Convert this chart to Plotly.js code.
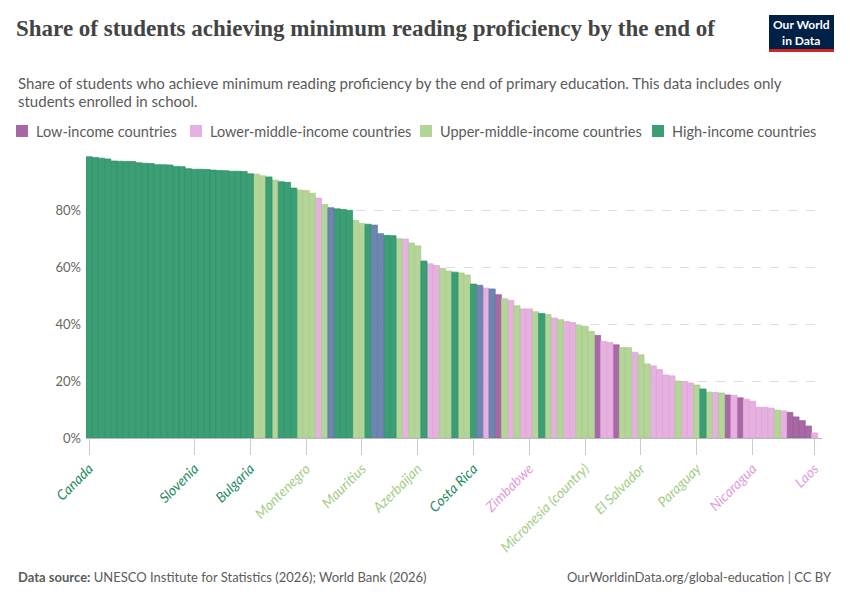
<!DOCTYPE html>
<html>
<head>
<meta charset="utf-8">
<script src="https://cdn.plot.ly/plotly-3.0.1.min.js"></script>
<style>html,body{margin:0;padding:0;background:#fff;}#chart{width:850px;height:600px;}</style>
</head>
<body>
<div id="chart"></div>
<script>
// Share of students (%) achieving minimum reading proficiency, sorted descending
const values = [
  98.7, 98.4, 98.2, 97.9, 97.2, 97.1, 97.0, 97.0, 96.6, 96.4,
  96.3, 95.9, 95.9, 95.8, 95.3, 95.2, 94.5, 94.3, 94.3, 94.2,
  94.0, 93.9, 93.8, 93.6, 93.6, 93.5, 92.7, 92.6, 92.0, 91.6,
  90.5, 89.9, 89.7, 87.7, 87.0, 86.8, 85.9, 84.2, 81.9, 80.8,
  80.4, 80.2, 79.9, 76.3, 75.3, 75.0, 74.7, 71.7, 71.1, 71.0,
  69.9, 69.8, 68.4, 67.4, 62.1, 61.1, 60.5, 59.5, 58.6, 58.2,
  57.9, 57.2, 54.0, 53.6, 52.6, 52.3, 50.3, 48.9, 48.3, 46.4,
  45.3, 45.3, 44.3, 43.7, 43.3, 42.1, 41.5, 40.9, 40.5, 39.5,
  39.2, 37.4, 36.0, 33.9, 33.5, 32.7, 31.8, 31.7, 30.1, 29.2,
  26.0, 25.3, 24.0, 22.1, 21.8, 20.0, 19.8, 19.3, 18.6, 17.2,
  16.1, 16.0, 15.8, 15.1, 15.0, 14.1, 13.6, 12.9, 10.8, 10.8,
  10.5, 9.8, 9.5, 9.0, 7.4, 6.1, 4.2, 1.8
];
// Income group of each bar: L low, LM lower-middle, UM upper-middle, H high, B other
const groups = [
  'H','H','H','H','H','H','H','H','H','H',
  'H','H','H','H','H','H','H','H','H','H',
  'H','H','H','H','H','H','H','UM','UM','H',
  'UM','H','H','H','UM','UM','UM','LM','UM','B',
  'H','H','H','UM','UM','H','B','B','H','H',
  'UM','LM','UM','UM','H','LM','LM','UM','UM','H',
  'UM','UM','H','B','LM','B','L','UM','LM','UM',
  'LM','LM','UM','H','UM','LM','UM','LM','LM','UM',
  'UM','UM','L','LM','LM','L','UM','UM','LM','UM',
  'UM','LM','LM','LM','LM','UM','LM','LM','UM','H',
  'UM','LM','UM','L','LM','L','LM','LM','LM','LM',
  'LM','UM','LM','L','L','L','L','LM'
];
// Labelled countries and their rank position
const tickIndex = [0, 17, 26, 35, 44, 53, 62, 71, 80, 89, 98, 107, 117];
const tickNames = ['Canada','Slovenia','Bulgaria','Montenegro','Mauritius','Azerbaijan','Costa Rica','Zimbabwe','Micronesia (country)','El Salvador','Paraguay','Nicaragua','Laos'];
// Y axis ticks
const yTicks = [0, 20, 40, 60, 80];
const yTickLabels = ['0%', '20%', '40%', '60%', '80%'];

const groupCodes = ['L','LM','UM','H','B'];
const legendCodes = ['L','LM','UM','H'];
const groupNames = {L:'Low-income countries', LM:'Lower-middle-income countries', UM:'Upper-middle-income countries', H:'High-income countries', B:'Other'};
const fillColor = {L:'#A868A5', LM:'#E6B0E0', UM:'#B4D598', H:'#3C9E75', B:'#6D86B0'};
const edgeColor = {L:'#9A5A97', LM:'#DCA3D6', UM:'#A8CC8B', H:'#2F9068', B:'#5F79A4'};
const labelColor = {L:'#A25A9E', LM:'#E09CDA', UM:'#A3CE85', H:'#1F8A5E', B:'#5F79A4'};

const traces = groupCodes.map(g => {
  const xs = [], ys = [];
  values.forEach((v, i) => { if (groups[i] === g) { xs.push(i); ys.push(v); } });
  return {
    type: 'bar', x: xs, y: ys, name: groupNames[g], width: 1,
    marker: {color: fillColor[g], line: {color: edgeColor[g], width: 0.7}},
    showlegend: false, hoverinfo: 'skip'
  };
});

const ticktext = tickIndex.map((idx, k) =>
  '<span style="color:' + labelColor[groups[idx]] + '"><i>' + tickNames[k] + '</i></span>');

const L = 86, R = 822, T = 153, B = 438;
const px = v => (v - L) / (R - L);
const py = v => (B - v) / (B - T);

// Legend (one row, as in the original): key square left edges in page pixels
const legendX = [16, 190, 420, 652];
const legendShapes = legendCodes.map((g, k) => ({
  type: 'rect', xref: 'paper', yref: 'paper',
  x0: px(legendX[k]), x1: px(legendX[k] + 12), y0: py(137), y1: py(125),
  fillcolor: fillColor[g], line: {width: 0}
}));
const legendTexts = legendCodes.map((g, k) => ({
  xref: 'paper', yref: 'paper', x: px(legendX[k] + 18), y: py(131), xanchor: 'left', yanchor: 'middle',
  showarrow: false, text: groupNames[g], font: {family: 'Lato, sans-serif', size: 14.5, color: '#5b5b5b'}
}));

const layout = {
  width: 850, height: 600,
  margin: {l: L, r: 850 - R, t: T, b: 600 - B, autoexpand: false},
  paper_bgcolor: '#fff', plot_bgcolor: '#fff',
  barmode: 'overlay', bargap: 0, showlegend: false,
  font: {family: 'Lato, sans-serif', color: '#5b5b5b'},
  title: {
    text: 'Share of students achieving minimum reading proficiency by the end of',
    font: {family: '"Liberation Serif", serif', size: 23, color: '#444', weight: 'bold'},
    xref: 'container', yref: 'container', x: 16/850, xanchor: 'left', y: 1 - 28/600, yanchor: 'middle'
  },
  xaxis: {
    range: [-0.5, 118.2], showgrid: false, zeroline: false, showline: false, automargin: false,
    tickmode: 'array', tickvals: tickIndex, ticktext: ticktext,
    ticks: 'outside', ticklen: 16, tickcolor: '#ccc', tickwidth: 1,
    tickangle: -45, tickfont: {family: 'Lato, sans-serif', size: 14}
  },
  yaxis: {
    range: [0, 100], tickmode: 'array', tickvals: yTicks, ticktext: yTickLabels, automargin: false,
    showgrid: true, gridcolor: '#dddddd', griddash: 'dash', gridwidth: 1,
    zeroline: true, zerolinecolor: '#bbbbbb', zerolinewidth: 1,
    showline: false, ticks: '', ticklabelstandoff: 4,
    tickfont: {family: 'Lato, sans-serif', size: 13, color: '#666'}
  },
  shapes: [
    {type: 'rect', xref: 'paper', yref: 'paper', x0: px(769), x1: px(834), y0: py(49), y1: py(15), fillcolor: '#002147', line: {width: 0}},
    {type: 'rect', xref: 'paper', yref: 'paper', x0: px(769), x1: px(834), y0: py(52), y1: py(49), fillcolor: '#CE261E', line: {width: 0}}
  ].concat(legendShapes),
  annotations: [
    {xref: 'paper', yref: 'paper', x: px(801.5), y: py(32), xanchor: 'center', yanchor: 'middle', showarrow: false,
     text: 'Our World<br>in Data', font: {family: 'Lato, sans-serif', size: 12, color: '#fff', weight: 'bold'}},
    {xref: 'paper', yref: 'paper', x: px(16), y: py(83), xanchor: 'left', yanchor: 'middle', showarrow: false,
     text: 'Share of students who achieve minimum reading proficiency by the end of primary education. This data includes only',
     font: {family: 'Lato, sans-serif', size: 15, color: '#5b5b5b'}},
    {xref: 'paper', yref: 'paper', x: px(16), y: py(101), xanchor: 'left', yanchor: 'middle', showarrow: false,
     text: 'students enrolled in school.', font: {family: 'Lato, sans-serif', size: 15, color: '#5b5b5b'}},
    {xref: 'paper', yref: 'paper', x: px(16), y: py(577), xanchor: 'left', yanchor: 'middle', showarrow: false,
     text: '<b>Data source:</b> UNESCO Institute for Statistics (2026); World Bank (2026)',
     font: {family: 'Lato, sans-serif', size: 13, color: '#5b5b5b'}},
    {xref: 'paper', yref: 'paper', x: px(834), y: py(577), xanchor: 'right', yanchor: 'middle', showarrow: false,
     text: 'OurWorldinData.org/global-education | CC BY',
     font: {family: 'Lato, sans-serif', size: 13, color: '#5b5b5b'}}
  ].concat(legendTexts)
};

Plotly.newPlot('chart', traces, layout, {staticPlot: true, displayModeBar: false});
</script>
</body>
</html>
